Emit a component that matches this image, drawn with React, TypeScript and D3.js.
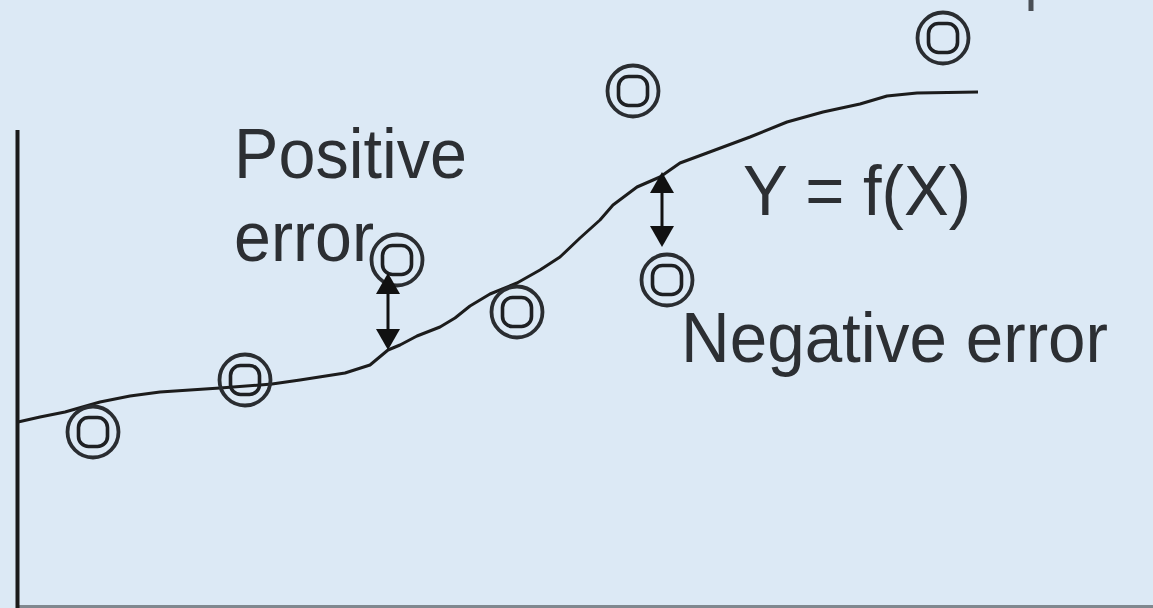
import React from "react";
import * as d3 from "d3";

// Chart units: x in 0..113.5, y in 0..47.6 (arbitrary diagram units)
const curveX = [0, 2.2, 4.7, 8.2, 11.2, 14.2, 20.2, 25.4, 28.2, 32.7, 35.2, 37.0, 38.2, 39.9, 42.2, 43.7, 45.2, 47.2, 49.9, 52.2, 54.2, 56.2, 58.2, 59.5, 61.9, 64.2, 66.2, 68.9, 73.2, 76.9, 80.5, 84.2, 86.9, 89.9, 96.0];
const curveY = [18.4, 18.9, 19.4, 20.4, 21.0, 21.4, 21.8, 22.2, 22.6, 23.3, 24.1, 25.6, 26.1, 27.0, 27.9, 28.8, 30.0, 31.2, 32.3, 33.6, 34.9, 36.8, 38.6, 40.1, 41.9, 42.9, 44.3, 45.3, 46.9, 48.4, 49.4, 50.2, 51.0, 51.3, 51.4];

const obsX = [7.5, 22.7, 37.9, 49.9, 61.5, 64.9, 92.5];
const obsY = [17.4, 22.6, 34.6, 29.4, 51.5, 32.6, 56.8];

// error arrows: x, from (observation side) y, to (curve) y
const errX = [37.0, 64.4];
const errObsY = [33.3, 35.9];
const errCurveY = [25.6, 43.4];

const labels = ["Positive", "error", "Y = f(X)", "Negative error"];

const W = 1153;
const H = 608;

export default function App() {
  React.useEffect(() => {
    document.body.style.margin = "0";
  }, []);

  const x = d3.scaleLinear().domain([0, 113.5]).range([18, 1153]);
  const y = d3.scaleLinear().domain([0, 47.6]).range([606, 130]);

  const pts: [number, number][] = curveX.map((v, i) => [v, curveY[i]]);
  const line = d3
    .line<[number, number]>()
    .x((d) => x(d[0]))
    .y((d) => y(d[1]))
    .curve(d3.curveLinear);

  const ink = "#1c1c1c";
  const head = (px: number, tipY: number, dir: number, w: number, h: number) =>
    `M${px},${tipY} L${px - w / 2},${tipY + dir * h} L${px + w / 2},${tipY + dir * h} Z`;

  return (
    <svg
      width={W}
      height={H}
      style={{ position: "absolute", left: 0, top: 0, display: "block" }}
      fontFamily="'Liberation Sans', Arial, sans-serif"
    >
      <rect x={0} y={0} width={W} height={H} fill="#dce9f5" />

      {/* axes */}
      <line x1={x(0)} x2={W} y1={H - 1.5} y2={H - 1.5} stroke="#80888f" strokeWidth={3} />
      <line x1={x(0) - 0.5} x2={x(0) - 0.5} y1={y(47.6)} y2={H} stroke="#1a1a1a" strokeWidth={4} />
      <line x1={1031} x2={1031} y1={0} y2={11} stroke="#4a4f55" strokeWidth={5} />

      {/* fitted curve */}
      <path d={line(pts) || ""} fill="none" stroke={ink} strokeWidth={3} strokeLinejoin="round" />

      {/* observations */}
      {obsX.map((v, i) => (
        <g key={i} transform={`translate(${x(v)},${y(obsY[i])})`}>
          <circle r={25.5} fill="none" stroke="#2a2d31" strokeWidth={3.8} />
          <rect x={-14.5} y={-14.5} width={29} height={29} rx={10} fill="none" stroke="#1e2023" strokeWidth={3.6} />
        </g>
      ))}

      {/* error arrows */}
      {errX.map((v, i) => {
        const px = x(v);
        const y1 = y(errObsY[i]);
        const y2 = y(errCurveY[i]);
        const top = Math.min(y1, y2);
        const bot = Math.max(y1, y2);
        return (
          <g key={i}>
            <line x1={px} x2={px} y1={top + 10} y2={bot - 10} stroke="#111" strokeWidth={3} />
            <path d={head(px, top, 1, 24, 21)} fill="#111" />
            <path d={head(px, bot, -1, 24, 21)} fill="#111" />
          </g>
        );
      })}

      {/* labels */}
      <g fill="#2c2f33" fontSize={70}>
        <text x={234} y={178} textLength={233} lengthAdjust="spacingAndGlyphs">{labels[0]}</text>
        <text x={234} y={261} textLength={140} lengthAdjust="spacingAndGlyphs">{labels[1]}</text>
        <text x={743} y={215} textLength={228} lengthAdjust="spacingAndGlyphs">{labels[2]}</text>
        <text x={681} y={362} textLength={427} lengthAdjust="spacingAndGlyphs">{labels[3]}</text>
      </g>
    </svg>
  );
}
